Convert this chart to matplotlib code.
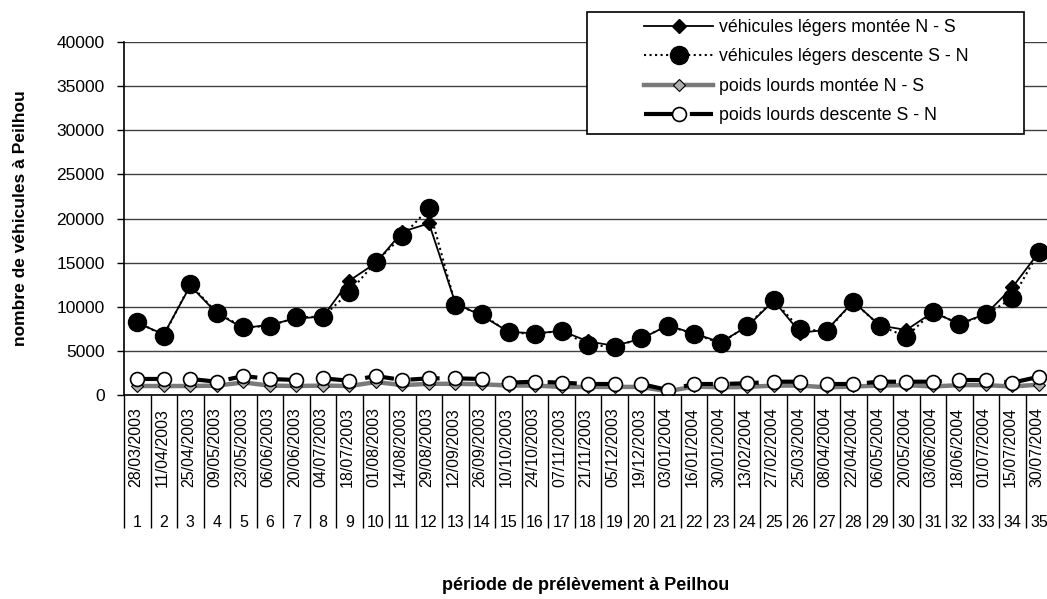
import matplotlib
matplotlib.use("Agg")
import matplotlib.pyplot as plt
from matplotlib.patches import Rectangle
from matplotlib.transforms import blended_transform_factory, offset_copy

plt.rcParams['font.family'] = ['Liberation Sans', 'DejaVu Sans']

# Data
periods = list(range(1, 36))
dates = ['28/03/2003', '11/04/2003', '25/04/2003', '09/05/2003', '23/05/2003', '06/06/2003',
         '20/06/2003', '04/07/2003', '18/07/2003', '01/08/2003', '14/08/2003', '29/08/2003',
         '12/09/2003', '26/09/2003', '10/10/2003', '24/10/2003', '07/11/2003', '21/11/2003',
         '05/12/2003', '19/12/2003', '03/01/2004', '16/01/2004', '30/01/2004', '13/02/2004',
         '27/02/2004', '25/03/2004', '08/04/2004', '22/04/2004', '06/05/2004', '20/05/2004',
         '03/06/2004', '18/06/2004', '01/07/2004', '15/07/2004', '30/07/2004']
vl_montee = [8200, 6900, 12400, 9300, 7600, 8000, 8700, 8900, 12980, 15000, 18520, 19470,
             10400, 9000, 7200, 7000, 7300, 6100, 5600, 6400, 7900, 7000, 6000, 7800,
             10700, 7100, 7400, 10600, 7900, 7400, 9400, 8100, 9200, 12230, 16200]
vl_descente = [8330, 6750, 12560, 9350, 7700, 7840, 8830, 8900, 11690, 15120, 18030, 21170,
               10220, 9170, 7130, 6940, 7310, 5690, 5500, 6450, 7880, 6940, 5890, 7880,
               10790, 7470, 7280, 10600, 7880, 6640, 9470, 8040, 9170, 10980, 16260]
pl_montee = [1050, 1050, 1050, 1100, 1450, 1100, 1050, 1100, 1050, 1500, 1150, 1300,
             1300, 1250, 1100, 1100, 950, 950, 950, 950, 450, 1000, 900, 950,
             1100, 1100, 900, 1000, 1100, 1150, 1000, 1150, 1150, 1000, 1200]
pl_descente = [1850, 1850, 1850, 1540, 2180, 1850, 1730, 1920, 1650, 2180, 1730, 1920,
               1920, 1850, 1430, 1540, 1430, 1280, 1280, 1280, 600, 1280, 1280, 1360,
               1540, 1540, 1280, 1280, 1540, 1540, 1540, 1730, 1730, 1430, 2100]

W, H = 1047, 599
fig = plt.figure(figsize=(W / 100, H / 100), dpi=100)
ax = fig.add_axes([124 / W, (H - 395.3) / H, 35 * 26.52 / W, 353.3 / H])

ax.plot(periods, vl_montee, color='black', lw=1.3, marker='D', ms=7,
        label='véhicules légers montée N - S')
ax.plot(periods, vl_descente, color='black', lw=1.5, ls=':', marker='o', ms=13,
        label='véhicules légers descente S - N')
ax.plot(periods, pl_montee, color='#7a7a7a', lw=3.2, marker='D', ms=6,
        mfc='#b0b0b0', mec='black', mew=0.8, label='poids lourds montée N - S')
ax.plot(periods, pl_descente, color='black', lw=3, dashes=(7, 4), marker='o', ms=10,
        mfc='white', mec='black', mew=1.2, label='poids lourds descente S - N')

ax.set_xlim(0.5, 35.5)
ax.set_ylim(0, 40000)
ax.set_yticks(range(0, 40001, 5000))
ax.yaxis.grid(True, color='#404040', lw=1)
ax.set_axisbelow(True)
for s in ['top', 'right']:
    ax.spines[s].set_visible(False)
ax.spines['left'].set_linewidth(1.2)
ax.spines['bottom'].set_linewidth(1.2)
ax.tick_params(axis='y', length=5, width=1, pad=9, labelsize=12.5)

# category boundaries extending through both label rows
ax.set_xticks([p - 0.5 for p in periods] + [35.5], minor=True)
ax.set_xticks([])
ax.tick_params(axis='x', which='minor', length=96, width=1)

trans = blended_transform_factory(ax.transData, ax.transAxes)
t_dates = offset_copy(trans, fig=fig, x=-2, y=-52, units='dots')
t_nums = offset_copy(trans, fig=fig, x=0, y=-127, units='dots')
for p, d in zip(periods, dates):
    ax.text(p, 0, d, transform=t_dates, rotation=90, ha='center', va='center',
            fontsize=11.5, clip_on=False)
    ax.text(p, 0, str(p), transform=t_nums, ha='center', va='center',
            fontsize=11.5, clip_on=False)

fig.text(586 / W, 1 - 585 / H, 'période de prélèvement à Peilhou', ha='center',
         va='center', fontsize=13, fontweight='bold')
fig.text(21 / W, 1 - 218 / H, 'nombre de véhicules à Peilhou', ha='center',
         va='center', rotation=90, fontsize=12.5, fontweight='bold')

# legend box
fig.patches.append(Rectangle((587 / W, 1 - 134 / H), (1024 - 587) / W, 122 / H,
                             transform=fig.transFigure, facecolor='white',
                             edgecolor='black', lw=1.2, zorder=5))
leg = fig.legend(loc='upper left', bbox_to_anchor=(644 / W, 1 - 19 / H), frameon=False,
                 fontsize=12.8, handlelength=3.9, handletextpad=0.3, labelspacing=0.7,
                 borderaxespad=0, borderpad=0)
leg.set_zorder(6)

fig.savefig('out.png', dpi=100)
